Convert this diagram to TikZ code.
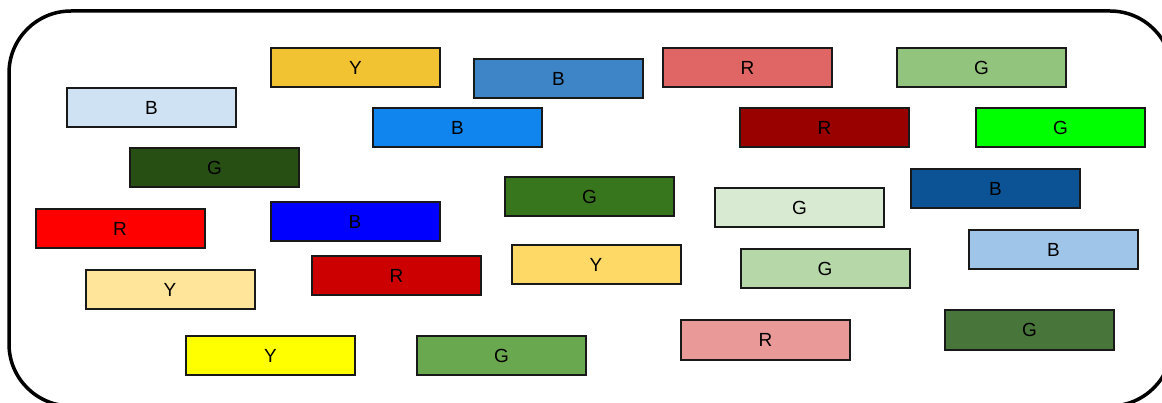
\documentclass[tikz,border=0pt]{standalone}
\usepackage{fontspec}
\setmainfont{Liberation Sans}
\definecolor{cA}{HTML}{F1C232}
\definecolor{cB}{HTML}{3D85C6}
\definecolor{cC}{HTML}{E06666}
\definecolor{cD}{HTML}{93C47D}
\definecolor{cE}{HTML}{CFE2F3}
\definecolor{cF}{HTML}{1185EE}
\definecolor{cG}{HTML}{990000}
\definecolor{cH}{HTML}{00FF00}
\definecolor{cI}{HTML}{274E13}
\definecolor{cJ}{HTML}{38761D}
\definecolor{cK}{HTML}{D9EAD3}
\definecolor{cL}{HTML}{0B5394}
\definecolor{cM}{HTML}{FF0000}
\definecolor{cN}{HTML}{0000FF}
\definecolor{cO}{HTML}{FFD966}
\definecolor{cP}{HTML}{9FC5E8}
\definecolor{cQ}{HTML}{B6D7A8}
\definecolor{cR}{HTML}{CC0000}
\definecolor{cS}{HTML}{FFE599}
\definecolor{cT}{HTML}{EA9999}
\definecolor{cU}{HTML}{48753A}
\definecolor{cV}{HTML}{FFFF00}
\definecolor{cW}{HTML}{6AA84F}
\begin{document}
\begin{tikzpicture}[x=1pt,y=-1pt,
  box/.style={draw=black!90, line width=2pt, minimum width=169pt, minimum height=39pt, inner sep=0pt, font=\fontsize{19}{19}\selectfont},
  frame/.style={draw=black, line width=3.5pt, rounded corners=62pt}]
\useasboundingbox (0,0) rectangle (1162,403);
\clip (0,0) rectangle (1162,403);
\path[frame] (9,11) rectangle (1172,406);
\node[box, fill=cA] (n1) at (355.5,67.5) {Y};
\node[box, fill=cB] (n2) at (558.5,78.5) {B};
\node[box, fill=cC] (n3) at (747.5,67.5) {R};
\node[box, fill=cD] (n4) at (981.5,67.5) {G};
\node[box, fill=cE] (n5) at (151.5,107.5) {B};
\node[box, fill=cF] (n6) at (457.5,127.5) {B};
\node[box, fill=cG] (n7) at (824.5,128) {R};
\node[box, fill=cH] (n8) at (1060.5,128) {G};
\node[box, fill=cI] (n9) at (214.5,168) {G};
\node[box, fill=cJ] (n10) at (589.5,196.5) {G};
\node[box, fill=cK] (n11) at (799.5,208) {G};
\node[box, fill=cL] (n12) at (995.5,188.5) {B};
\node[box, fill=cM] (n13) at (120,228.5) {R};
\node[box, fill=cN] (n14) at (355,221.5) {B};
\node[box, fill=cO] (n15) at (596,264.5) {Y};
\node[box, fill=cP] (n16) at (1053.5,249.5) {B};
\node[box, fill=cQ] (n17) at (825,269) {G};
\node[box, fill=cR] (n18) at (396.5,275.5) {R};
\node[box, fill=cS] (n19) at (170,289.5) {Y};
\node[box, fill=cT] (n20) at (765.5,340) {R};
\node[box, fill=cU] (n21) at (1029.5,330) {G};
\node[box, fill=cV] (n22) at (270.5,355.5) {Y};
\node[box, fill=cW] (n23) at (501.5,355.5) {G};
\end{tikzpicture}
\end{document}
